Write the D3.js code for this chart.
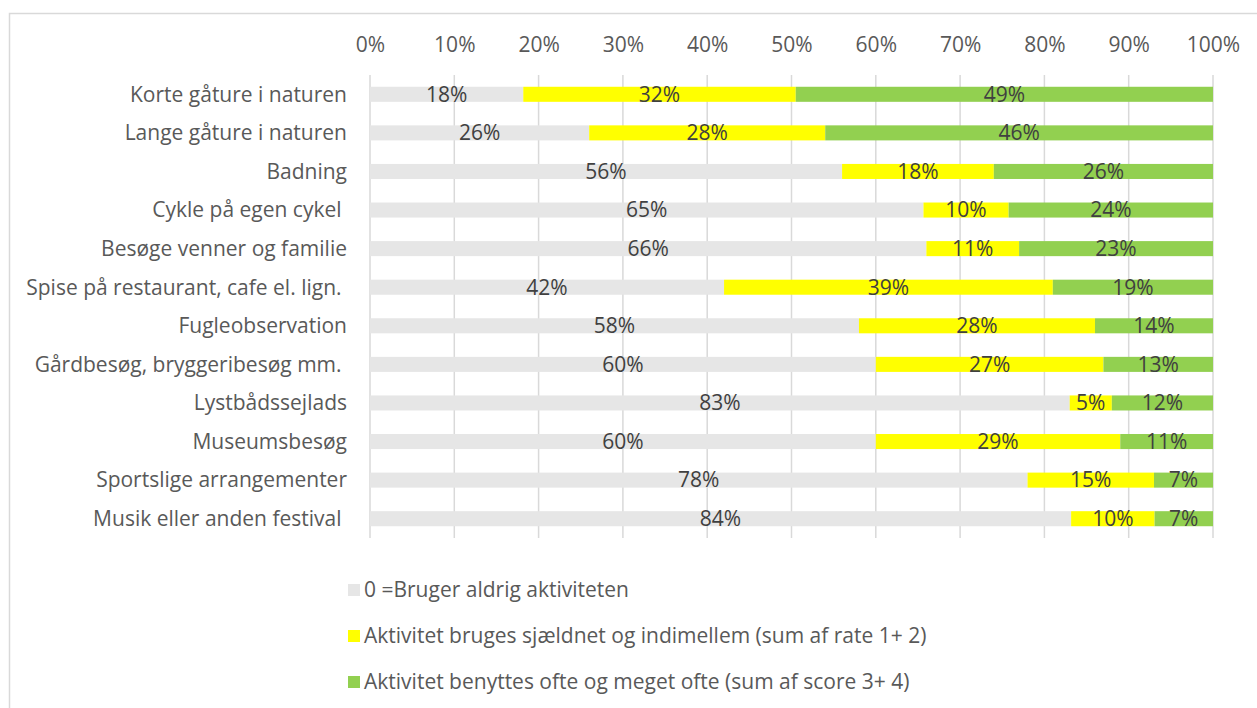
<!DOCTYPE html>
<html>
<head>
<meta charset="utf-8">
<script src="https://cdn.jsdelivr.net/npm/d3@7"></script>
<style>
  body { margin: 0; background: #fff; }
  svg { display: block; font-family: "Open Sans", sans-serif; }
</style>
</head>
<body>
<svg id="chart" width="1257" height="708"></svg>
<script>
// Kategorier (aktiviteter)
const aktiviteter = [
  'Korte gåture i naturen',
  'Lange gåture i naturen',
  'Badning',
  'Cykle på egen cykel ',
  'Besøge venner og familie',
  'Spise på restaurant, cafe el. lign. ',
  'Fugleobservation',
  'Gårdbesøg, bryggeribesøg mm. ',
  'Lystbådssejlads',
  'Museumsbesøg',
  'Sportslige arrangementer',
  'Musik eller anden festival '
];

// Serier (procent)
const aldrig = [18, 26, 56, 65, 66, 42, 58, 60, 83, 60, 78, 84];
const sjaeldent = [32, 28, 18, 10, 11, 39, 28, 27, 5, 29, 15, 10];
const ofte = [49, 46, 26, 24, 23, 19, 14, 13, 12, 11, 7, 7];

const serieNavne = [
  '0 =Bruger aldrig aktiviteten',
  'Aktivitet bruges sjældnet og indimellem (sum af rate 1+ 2)',
  'Aktivitet benyttes ofte og meget ofte (sum af score 3+ 4)'
];
const farver = ['#e6e6e6', '#ffff00', '#92d050'];

const tickVaerdier = [0, 0.1, 0.2, 0.3, 0.4, 0.5, 0.6, 0.7, 0.8, 0.9, 1];

const fontStr = '21px';

const svg = d3.select('#chart');

// Ramme om diagrammet
svg.append('rect')
  .attr('x', 9.5).attr('y', 13.5)
  .attr('width', 1300).attr('height', 760)
  .attr('fill', 'none')
  .attr('stroke', '#d9d9d9')
  .attr('stroke-width', 1.5);

const x = d3.scaleLinear().domain([0, 1]).range([370, 1213]);
const y = d3.scaleBand().domain(aktiviteter).range([75, 538]).paddingInner(0.61).paddingOuter(0.305);

// Gitterlinjer
svg.append('g')
  .selectAll('line')
  .data(tickVaerdier)
  .enter()
  .append('line')
  .attr('x1', d => x(d)).attr('x2', d => x(d))
  .attr('y1', 75).attr('y2', 538)
  .attr('stroke', '#d9d9d9')
  .attr('stroke-width', 1.5);

// Akse-etiketter foroven
const akse = d3.axisTop(x)
  .tickValues(tickVaerdier)
  .tickFormat(d3.format('.0%'))
  .tickSize(0)
  .tickPadding(0);

svg.append('g')
  .attr('transform', 'translate(0,52)')
  .call(akse)
  .call(g => g.select('.domain').remove())
  .selectAll('text')
  .attr('fill', '#595959')
  .style('font-size', fontStr)
  .style('font-family', '"Open Sans", sans-serif');

// Kategori-etiketter
svg.append('g')
  .selectAll('text')
  .data(aktiviteter)
  .enter()
  .append('text')
  .attr('x', 347)
  .attr('y', d => y(d) + y.bandwidth() / 2)
  .attr('dy', '0.35em')
  .attr('text-anchor', 'end')
  .attr('fill', '#595959')
  .style('font-size', fontStr)
  .style('white-space', 'pre')
  .text(d => d);

// Stablede data, normaliseret til 100%
const rækker = aktiviteter.map((navn, i) => {
  const sum = aldrig[i] + sjaeldent[i] + ofte[i];
  return { navn, v: [aldrig[i], sjaeldent[i], ofte[i]], sum };
});

const segmenter = [];
rækker.forEach(r => {
  let start = 0;
  r.v.forEach((v, s) => {
    const andel = v / r.sum;
    segmenter.push({ navn: r.navn, serie: s, x0: start, x1: start + andel, vaerdi: v });
    start += andel;
  });
});

svg.append('g')
  .selectAll('rect')
  .data(segmenter)
  .enter()
  .append('rect')
  .attr('x', d => x(d.x0))
  .attr('width', d => x(d.x1) - x(d.x0))
  .attr('y', d => y(d.navn))
  .attr('height', y.bandwidth())
  .attr('fill', d => farver[d.serie]);

svg.append('g')
  .selectAll('text')
  .data(segmenter)
  .enter()
  .append('text')
  .attr('x', d => (x(d.x0) + x(d.x1)) / 2)
  .attr('y', d => y(d.navn) + y.bandwidth() / 2)
  .attr('dy', '0.35em')
  .attr('text-anchor', 'middle')
  .attr('fill', '#404040')
  .style('font-size', fontStr)
  .text(d => d.vaerdi + '%');

// Forklaring
const legend = svg.append('g')
  .selectAll('g')
  .data(serieNavne)
  .enter()
  .append('g')
  .attr('transform', (d, i) => `translate(348, ${590 + i * 46})`);

legend.append('rect')
  .attr('x', 0).attr('y', -6)
  .attr('width', 12).attr('height', 12)
  .attr('fill', (d, i) => farver[i]);

legend.append('text')
  .attr('x', 16)
  .attr('y', 0)
  .attr('dy', '0.35em')
  .attr('fill', '#595959')
  .style('font-size', fontStr)
  .text(d => d);
</script>
</body>
</html>
